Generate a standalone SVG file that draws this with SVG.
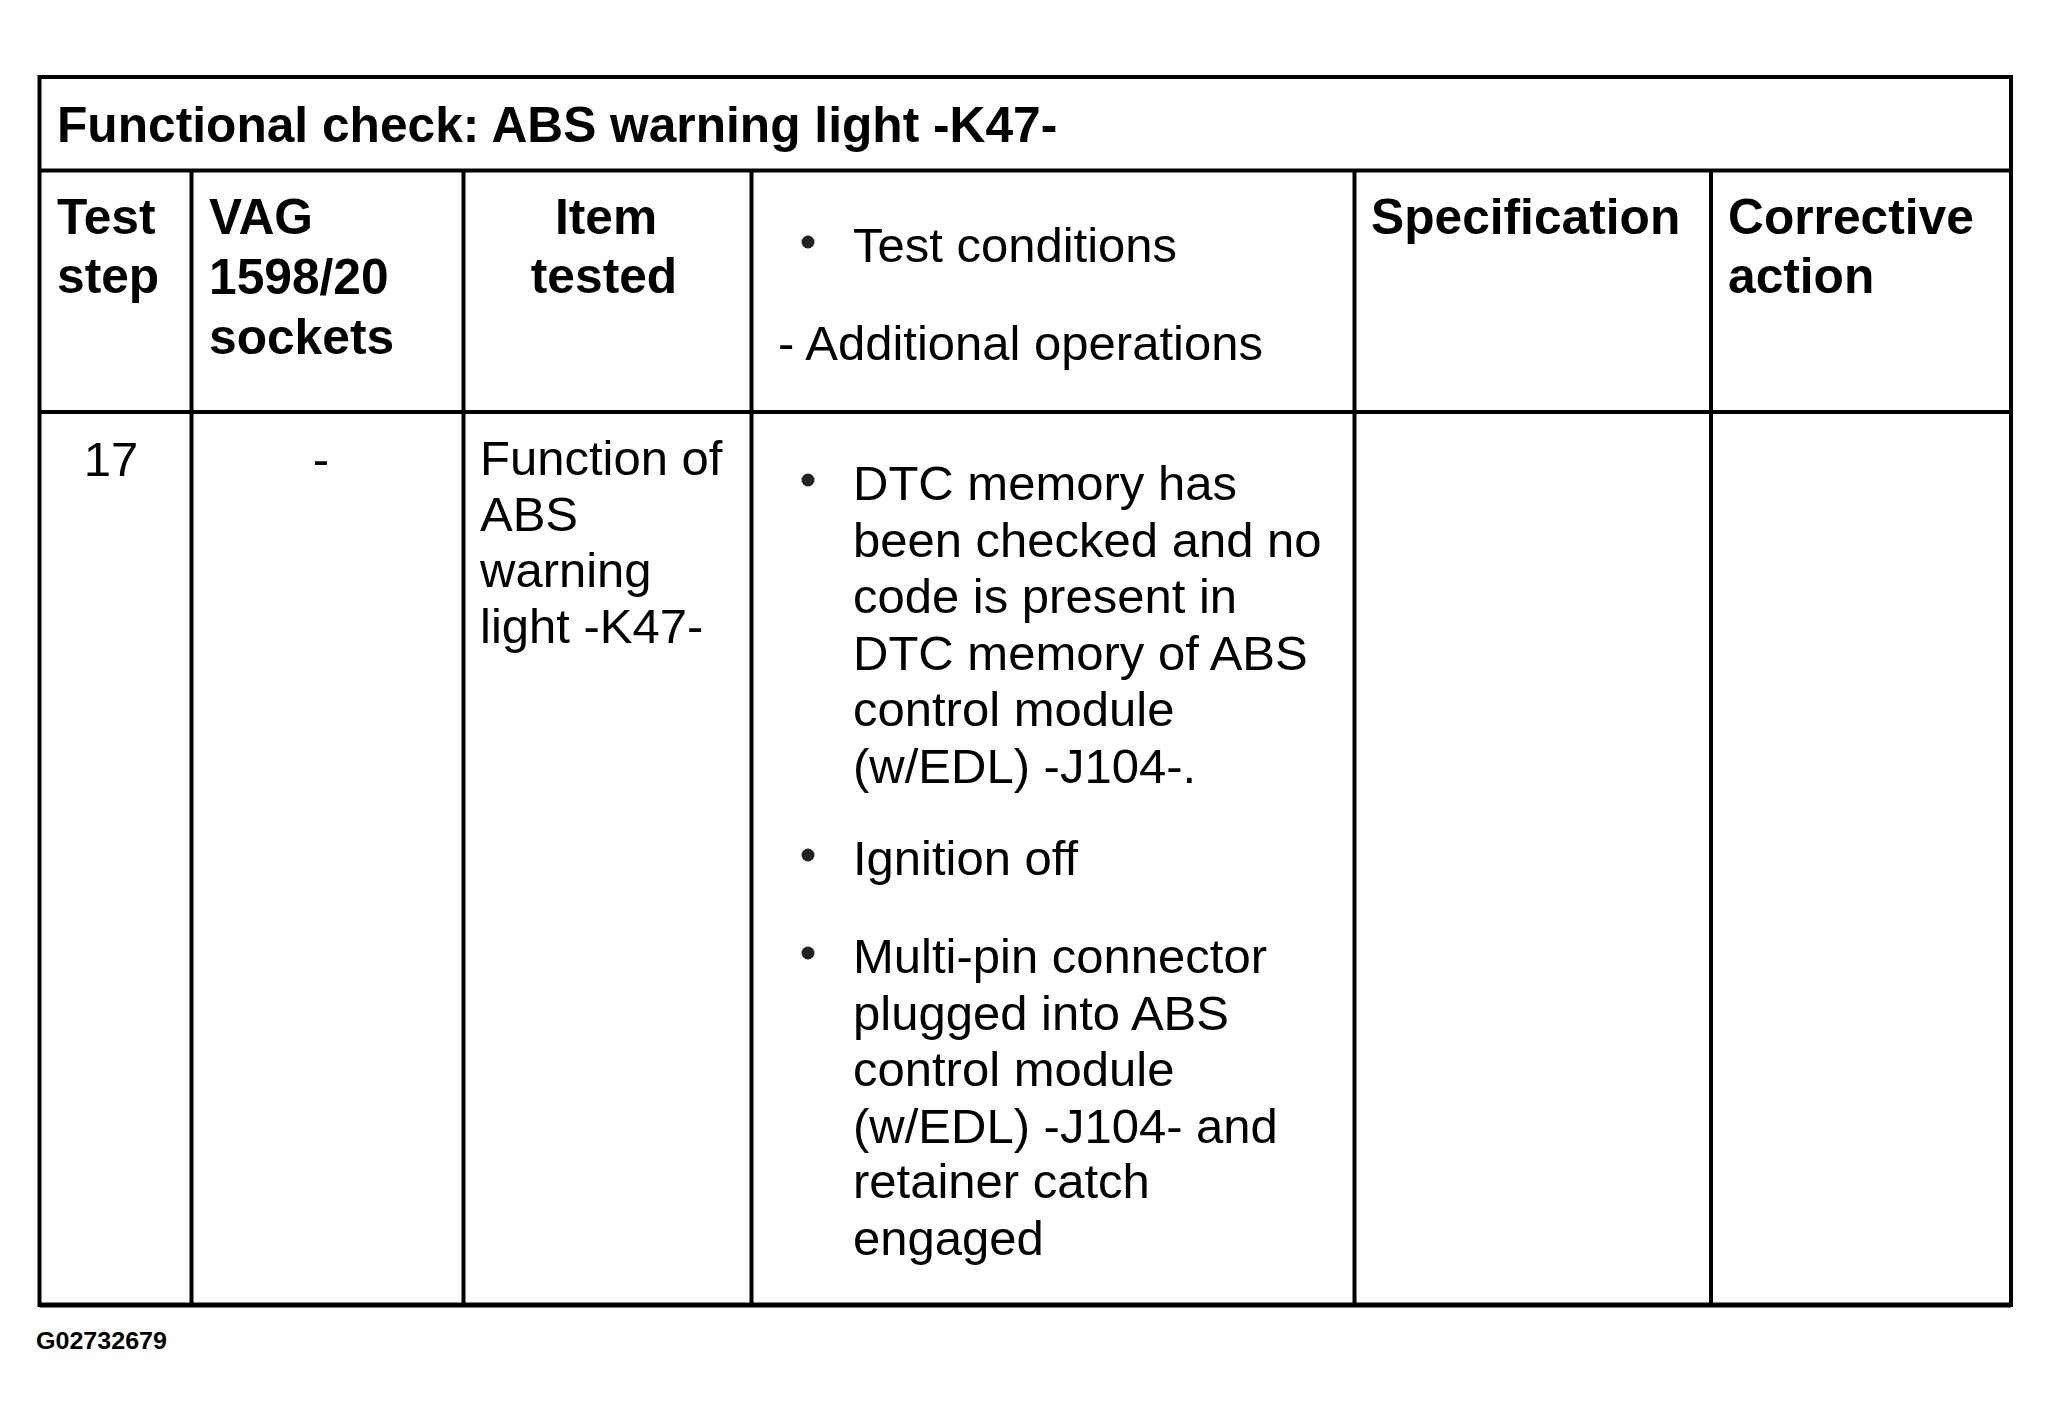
<svg xmlns="http://www.w3.org/2000/svg" width="2050" height="1427" viewBox="0 0 2050 1427">
<style>
.b{font-family:"Liberation Sans",Arial,sans-serif;font-weight:bold;font-size:49.7px;fill:#000}
.r{font-family:"Liberation Sans",Arial,sans-serif;font-size:49px;fill:#000}
.m{text-anchor:middle}
.ln{stroke:#000;stroke-width:4;fill:none}
.dot{fill:#222}
</style>
<rect width="2050" height="1427" fill="#fff"/>
<g id="grid" class="ln">
<rect x="39.5" y="77" width="1971.5" height="1228"/>
<line x1="39.5" y1="170.5" x2="2011" y2="170.5"/>
<line x1="39.5" y1="412" x2="2011" y2="412"/>
<line x1="191.5" y1="170.5" x2="191.5" y2="1305"/>
<line x1="463.5" y1="170.5" x2="463.5" y2="1305"/>
<line x1="751.5" y1="170.5" x2="751.5" y2="1305"/>
<line x1="1354.5" y1="170.5" x2="1354.5" y2="1305"/>
<line x1="1711" y1="170.5" x2="1711" y2="1305"/>
<line x1="39.5" y1="1305" x2="2011" y2="1305" stroke-width="5"/>
</g>
<g id="title"><text class="b" x="57" y="142">Functional check: ABS warning light -K47-</text></g>
<g id="h-step"><text class="b" x="57" y="234">Test</text><text class="b" x="57" y="293">step</text></g>
<g id="h-vag"><text class="b" x="209" y="234">VAG</text><text class="b" x="209" y="294">1598/20</text><text class="b" x="209" y="354">sockets</text></g>
<g id="h-item"><text class="b m" x="606" y="234">Item</text><text class="b m" x="604" y="293">tested</text></g>
<g id="h-cond"><circle class="dot" cx="808" cy="242" r="6.5"/><text class="r" x="853" y="262">Test conditions</text><text class="r" x="778" y="360">- Additional operations</text></g>
<g id="h-spec"><text class="b" x="1371" y="234">Specification</text></g>
<g id="h-corr"><text class="b" x="1728" y="234">Corrective</text><text class="b" x="1728" y="293">action</text></g>
<g id="c-step"><text class="r m" x="111" y="476">17</text></g>
<g id="c-vag"><text class="r m" x="321" y="476">-</text></g>
<g id="c-item"><text class="r" x="480" y="475">Function of</text><text class="r" x="480" y="531">ABS</text><text class="r" x="480" y="587">warning</text><text class="r" x="480" y="643">light -K47-</text></g>
<g id="c-cond">
<circle class="dot" cx="808" cy="480" r="6.5"/>
<text class="r" x="853" y="500">DTC memory has</text>
<text class="r" x="853" y="556.5">been checked and no</text>
<text class="r" x="853" y="613">code is present in</text>
<text class="r" x="853" y="669.5">DTC memory of ABS</text>
<text class="r" x="853" y="726">control module</text>
<text class="r" x="853" y="782.5">(w/EDL) -J104-.</text>
<circle class="dot" cx="808" cy="855" r="6.5"/>
<text class="r" x="853" y="875">Ignition off</text>
<circle class="dot" cx="808" cy="953" r="6.5"/>
<text class="r" x="853" y="973">Multi-pin connector</text>
<text class="r" x="853" y="1029.5">plugged into ABS</text>
<text class="r" x="853" y="1086">control module</text>
<text class="r" x="853" y="1142.5">(w/EDL) -J104- and</text>
<text class="r" x="853" y="1198">retainer catch</text>
<text class="r" x="853" y="1254.5">engaged</text>
</g>
<g id="footer"><text x="36" y="1349" textLength="131" lengthAdjust="spacingAndGlyphs" style="font-family:'Liberation Sans',Arial,sans-serif;font-weight:bold;font-size:23px">G02732679</text></g>
</svg>
